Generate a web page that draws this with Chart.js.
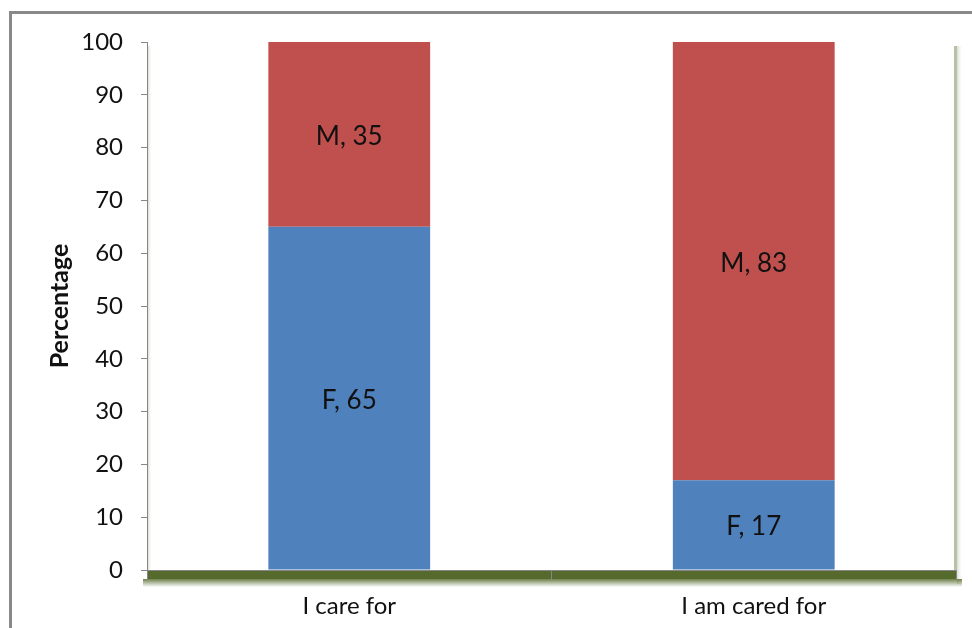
<!DOCTYPE html>
<html>
<head>
<meta charset="utf-8">
<script src="https://cdn.jsdelivr.net/npm/chart.js@4"></script>
<style>
  html, body { margin: 0; padding: 0; background: #fff; }
  #wrap { width: 972px; height: 628px; }
</style>
</head>
<body>
<div id="wrap"><canvas id="myChart" width="972" height="628"></canvas></div>
<script>
const categories = ['I care for', 'I am cared for'];
const seriesNames = ['F', 'M'];
const femaleValues = [65, 17];
const maleValues = [35, 83];

const ctx = document.getElementById('myChart');

// frame, 3d floor and walls
const decorPlugin = {
  id: 'decor',
  beforeDraw(chart) {
    const c = chart.ctx;
    const a = chart.chartArea;
    c.save();
    c.strokeStyle = '#898989';
    c.lineWidth = 3;
    c.strokeRect(10.5, 12.5, 980, 640);

    // left wall
    let g = c.createLinearGradient(a.left, 0, a.left + 5, 0);
    g.addColorStop(0, '#c3cab9');
    g.addColorStop(1, 'rgba(255,255,255,0)');
    c.fillStyle = g;
    c.fillRect(a.left, a.top + 4, 5, a.bottom - a.top - 4);

    // right wall
    c.fillStyle = '#b7c2a8';
    c.fillRect(a.right - 2, a.top + 4, 3, a.bottom - a.top);
    g = c.createLinearGradient(a.right + 1, 0, a.right + 7, 0);
    g.addColorStop(0, 'rgba(190,200,180,0.6)');
    g.addColorStop(1, 'rgba(255,255,255,0)');
    c.fillStyle = g;
    c.fillRect(a.right + 1, a.top + 4, 6, a.bottom - a.top + 10);

    // floor
    c.fillStyle = '#556a2c';
    c.fillRect(a.left, a.bottom, a.right - a.left + 1, 9);
    g = c.createLinearGradient(0, a.bottom + 9, 0, a.bottom + 17);
    g.addColorStop(0, 'rgba(85,106,44,0.85)');
    g.addColorStop(1, 'rgba(85,106,44,0)');
    c.fillStyle = g;
    c.fillRect(a.left - 4, a.bottom + 9, a.right - a.left + 10, 8);
    c.restore();
  }
};

// "F, 65" style labels inside the segments
const labelPlugin = {
  id: 'segLabels',
  afterDatasetsDraw(chart) {
    const c = chart.ctx;
    c.save();
    c.font = '26px Lato';
    c.fillStyle = '#111';
    c.textAlign = 'center';
    c.textBaseline = 'middle';
    chart.data.datasets.forEach((ds, i) => {
      chart.getDatasetMeta(i).data.forEach((bar, j) => {
        const mid = (bar.y + bar.base) / 2 + 2;
        c.fillText(ds.label + ', ' + ds.data[j], bar.x, mid);
      });
    });
    c.restore();
  }
};

const myChart = new Chart(ctx, {
  type: 'bar',
  data: {
    labels: categories,
    datasets: [
      {
        label: seriesNames[0],
        data: femaleValues,
        backgroundColor: '#4f81bd'
      },
      {
        label: seriesNames[1],
        data: maleValues,
        backgroundColor: '#c0504d'
      }
    ]
  },
  options: {
    responsive: false,
    animation: false,
    events: [],
    barPercentage: 0.4,
    categoryPercentage: 1,
    layout: { padding: { left: 10, right: 16, top: 42, bottom: 0 } },
    plugins: {
      legend: { display: false },
      tooltip: { enabled: false }
    },
    scales: {
      x: {
        stacked: true,
        afterFit: s => { s.height = 58; },
        grid: {
          offset: true,
          drawOnChartArea: false,
          tickLength: 10,
          color: '#868686'
        },
        border: { color: '#868686' },
        ticks: {
          color: '#111',
          padding: 12,
          font: { family: 'Lato', size: 24 }
        }
      },
      y: {
        stacked: true,
        min: 0,
        max: 100,
        afterFit: s => { s.width = 137; },
        grid: {
          drawOnChartArea: false,
          tickLength: 6,
          color: '#868686'
        },
        border: { color: '#868686' },
        ticks: {
          stepSize: 10,
          color: '#111',
          padding: 18,
          font: { family: 'Lato', size: 24 }
        },
        title: {
          display: true,
          text: 'Percentage',
          color: '#111',
          padding: { top: 35, bottom: 0 },
          font: { family: 'Lato', size: 25, weight: 'bold' }
        }
      }
    }
  },
  plugins: [decorPlugin, labelPlugin]
});
</script>
</body>
</html>
